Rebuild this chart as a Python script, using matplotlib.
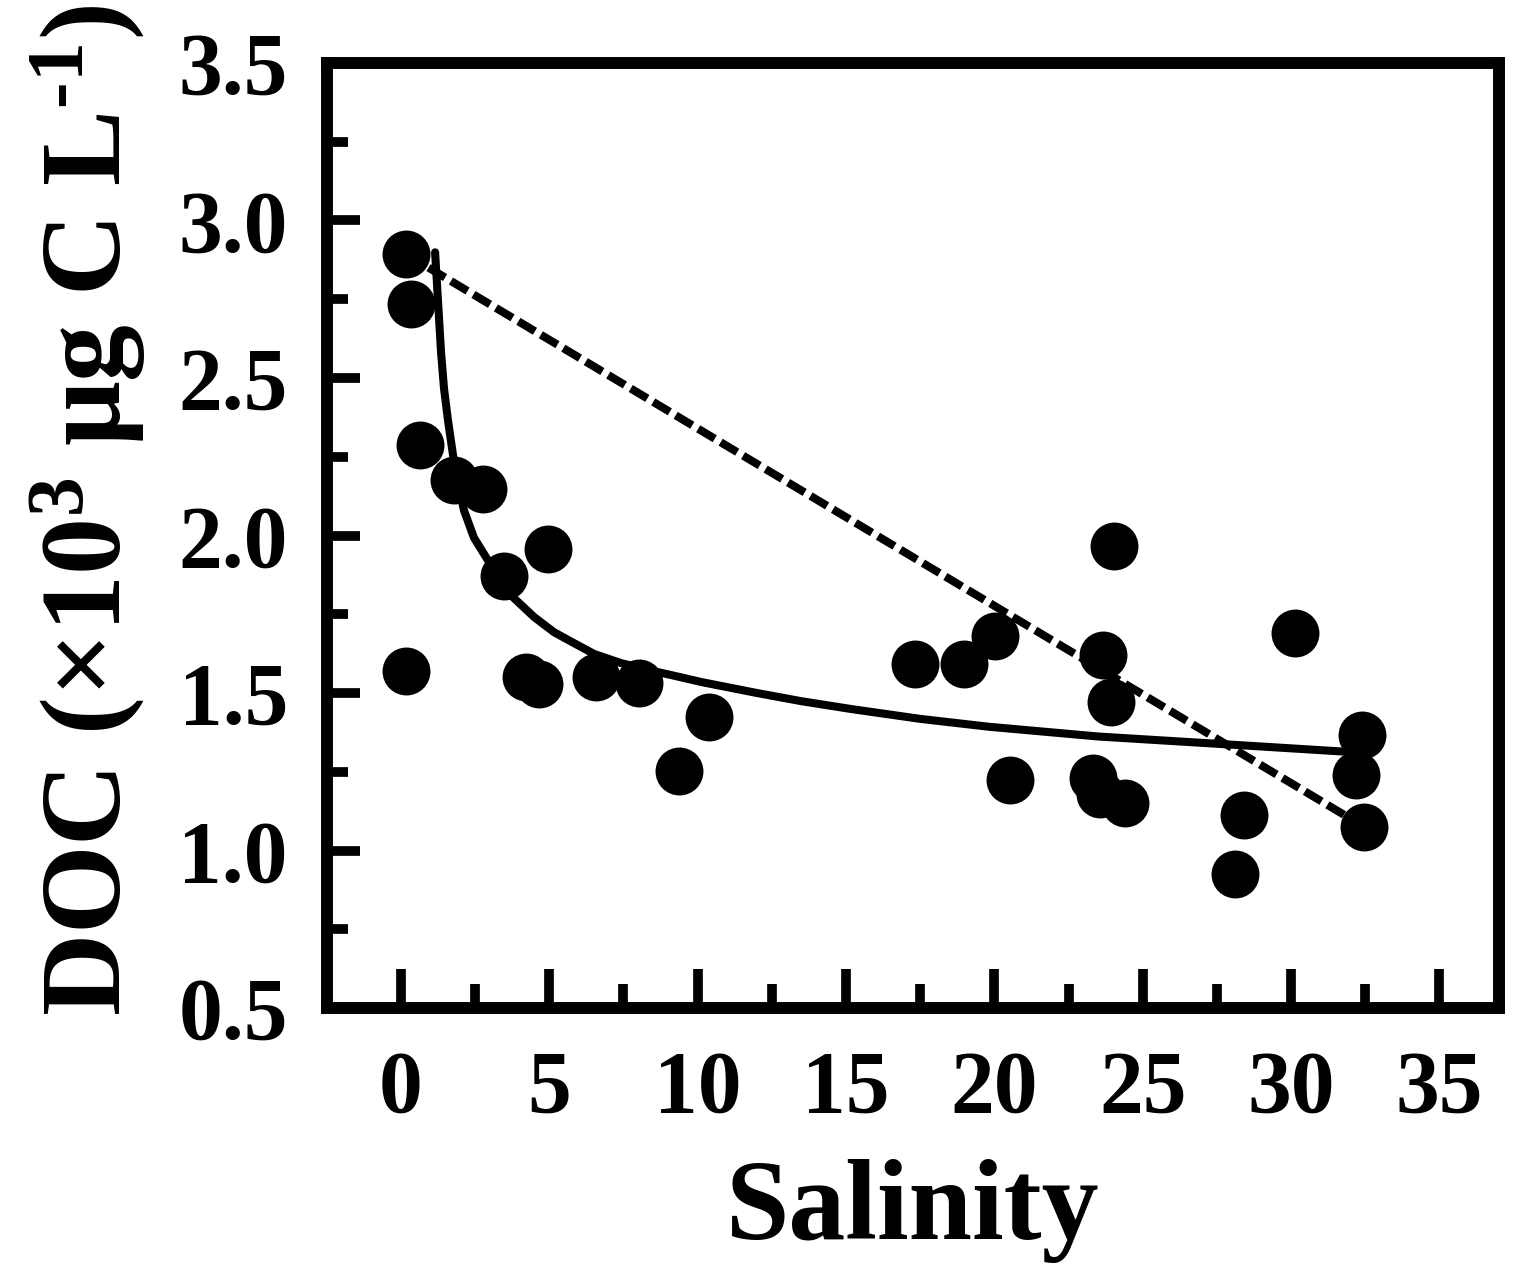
import matplotlib
matplotlib.use("Agg")
import matplotlib.pyplot as plt
from matplotlib.ticker import MultipleLocator

plt.rcParams['font.family'] = ['Liberation Serif', 'DejaVu Serif']
plt.rcParams['font.weight'] = 'bold'
plt.rcParams['mathtext.fontset'] = 'custom'
plt.rcParams['mathtext.rm'] = 'Liberation Serif:bold'
plt.rcParams['mathtext.it'] = 'Liberation Serif:bold'
plt.rcParams['mathtext.bf'] = 'Liberation Serif:bold'

# Observed data
salinity = [0.17, 0.34, 0.17, 0.64, 1.79, 2.77, 3.48, 4.96, 4.22, 4.66,
            6.58, 8.03, 9.38, 10.39, 17.31, 18.97, 20.01, 20.52, 24.03, 23.66,
            23.93, 23.33, 23.57, 24.40, 30.14, 28.43, 28.11, 32.40, 32.20, 32.47]
doc = [2.893, 2.735, 1.570, 2.287, 2.176, 2.148, 1.870, 1.958, 1.551, 1.529,
       1.551, 1.532, 1.254, 1.425, 1.592, 1.592, 1.681, 1.223, 1.968, 1.621,
       1.472, 1.229, 1.178, 1.150, 1.690, 1.112, 0.925, 1.368, 1.240, 1.075]

# Fitted curve
fit_x = [1.15, 1.25, 1.35, 1.45, 1.59, 1.75, 1.92, 2.13, 2.46, 2.94,
         3.37, 3.81, 4.49, 5.16, 5.84, 6.51, 7.42, 8.54, 9.11, 10.12,
         12.0, 13.5, 15.19, 17.5, 19.81, 23.5, 27.84, 31.79]
fit_y = [2.899, 2.741, 2.583, 2.467, 2.362, 2.258, 2.164, 2.078, 1.993, 1.920,
         1.848, 1.801, 1.741, 1.693, 1.658, 1.624, 1.595, 1.569, 1.557, 1.535,
         1.500, 1.474, 1.449, 1.418, 1.393, 1.362, 1.337, 1.314]

# Conservative mixing line
mix_x = [0.17, 32.47]
mix_y = [2.893, 1.075]

xticks = [0, 5, 10, 15, 20, 25, 30, 35]
yticks = [0.5, 1.0, 1.5, 2.0, 2.5, 3.0, 3.5]

fig = plt.figure(figsize=(15.2, 12.72), dpi=100)
ax = fig.add_axes([0.215, 0.2075, 0.771, 0.743])

ax.plot(mix_x, mix_y, color='black', lw=5.8, linestyle=(0, (2.4, 0.85)), zorder=2)
ax.plot(fit_x, fit_y, color='black', lw=5.8, solid_capstyle='round',
        solid_joinstyle='round', zorder=2)
ax.plot(salinity, doc, 'o', color='black', markersize=34.5, markeredgewidth=0, zorder=3)

ax.set_xlim(-2.5, 37.0)
ax.set_ylim(0.5, 3.5)
ax.set_xticks(xticks)
ax.set_xticklabels([str(t) for t in xticks])
ax.set_yticks(yticks)
ax.set_yticklabels([f"{t:.1f}" for t in yticks])
ax.xaxis.set_minor_locator(MultipleLocator(2.5))
ax.yaxis.set_minor_locator(MultipleLocator(0.25))

ax.tick_params(axis='both', which='both', direction='in', top=False, right=False)
ax.tick_params(axis='x', which='major', length=28, width=7, pad=30, labelsize=63)
ax.tick_params(axis='x', which='minor', length=17, width=7)
ax.tick_params(axis='y', which='major', length=24, width=7, pad=28, labelsize=63)
ax.tick_params(axis='y', which='minor', length=15, width=7)

for sp in ax.spines.values():
    sp.set_linewidth(8.6)

ax.set_xlabel('Salinity', fontsize=82, fontweight='bold', labelpad=20)
ax.set_ylabel(r'DOC (×10$^{3}$ μg C L$^{\text{-}1}$)', fontsize=82,
              fontweight='bold', labelpad=22, y=0.527)

fig.savefig('out.png', dpi=100)
